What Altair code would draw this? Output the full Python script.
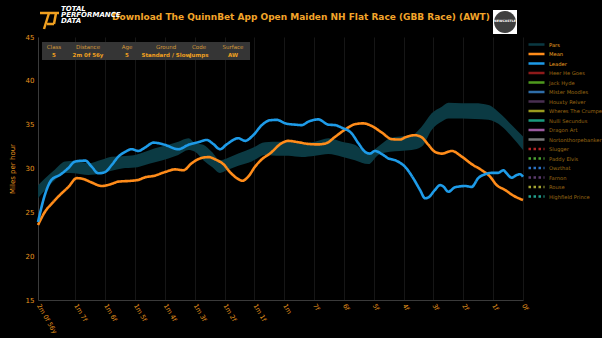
import altair as alt
import pandas as pd

# ---------------- data ----------------
leader_dist = [16.25, 16.0, 15.8, 15.5, 15.25, 15.0, 14.67, 14.45, 14.23, 14.0, 13.78, 13.56, 13.33,
               13.11, 12.89, 12.66, 12.38, 12.0, 11.55, 11.21, 10.88, 10.6, 10.38, 10.15, 9.93, 9.54,
               9.31, 9.04, 8.75, 8.48, 8.25, 7.97, 7.64, 7.41, 7.19, 6.86, 6.52, 6.3, 6.07, 5.74, 5.52,
               5.29, 5.13, 4.96, 4.73, 4.51, 4.29, 3.9, 3.68, 3.45, 3.28, 3.17, 2.95, 2.78, 2.67, 2.5,
               2.28, 1.94, 1.72, 1.5, 1.27, 1.05, 0.83, 0.66, 0.55, 0.38, 0.21, 0.1, 0.0]
leader_mph = [23.9, 27.2, 28.7, 29.3, 30.0, 30.8, 30.9, 30.2, 29.45, 29.6, 30.4, 31.35, 31.9,
              32.2, 32.0, 32.4, 32.95, 32.7, 32.2, 32.7, 33.0, 33.25, 32.8, 32.2, 32.75, 33.45,
              33.15, 33.8, 34.95, 35.5, 35.55, 35.15, 35.0, 34.95, 35.35, 35.6, 35.0, 34.95, 34.65, 34.0, 32.9,
              31.9, 31.7, 32.0, 31.65, 31.15, 30.95, 30.0, 28.9, 27.55, 26.6, 26.7, 27.55, 28.1, 27.95, 27.35,
              27.85, 28.0, 27.9, 28.9, 29.35, 29.5, 29.5, 29.8, 29.45, 28.95, 29.25, 29.35, 29.05]

mean_dist = [16.25, 16.01, 15.79, 15.51, 15.23, 14.95, 14.73, 14.45, 14.11, 13.78, 13.56, 13.11, 12.89,
             12.66, 12.38, 11.99, 11.66, 11.38, 11.1, 10.82, 10.54, 10.26, 10.04, 9.82, 9.59, 9.4, 9.2,
             8.98, 8.75, 8.48, 8.08, 7.86, 7.53, 7.19, 6.86, 6.58, 6.3, 5.96, 5.63, 5.35, 5.07, 4.73,
             4.4, 4.12, 3.95, 3.62, 3.39, 3.17, 2.95, 2.72, 2.39, 2.05, 1.72, 1.38, 1.11, 0.88, 0.6, 0.32, 0.0]
mean_mph = [23.55, 25.1, 26.0, 27.0, 27.9, 28.9, 28.8, 28.4, 28.0, 28.25, 28.5, 28.6, 28.7,
            29.0, 29.15, 29.6, 29.9, 29.8, 30.6, 31.15, 31.3, 30.95, 30.5, 29.6, 28.9, 28.6, 29.1,
            30.2, 31.05, 31.7, 32.9, 33.15, 33.0, 32.8, 32.75, 32.9, 33.6, 34.45, 35.05, 35.15, 34.85, 34.1,
            33.35, 33.3, 33.55, 33.8, 33.55, 32.7, 31.9, 31.7, 32.0, 31.35, 30.5, 29.8, 29.1, 28.1, 27.55, 26.9, 26.4]

pars_dist = [16.25, 16.01, 15.68, 15.34, 15.01, 14.57, 14.12, 13.78, 13.44, 13.0, 12.66, 12.33, 11.88,
             11.55, 11.21, 10.99, 10.71, 10.43, 10.15, 9.93, 9.54, 9.09, 8.64, 8.14, 7.86, 7.41, 6.97,
             6.52, 6.07, 5.63, 5.18, 4.85, 4.46, 4.12, 3.73, 3.39, 3.06, 2.72, 2.5, 2.05, 1.61, 1.16,
             0.71, 0.38, 0.0]
pars_high = [28.1, 28.9, 29.9, 30.8, 30.85, 30.6, 31.0, 31.35, 31.4, 31.55, 31.9, 32.3, 32.7,
             33.05, 33.45, 32.9, 32.7, 31.9, 30.95, 31.15, 31.7, 32.3, 33.0, 33.05, 33.05, 32.9, 33.05,
             33.45, 33.05, 32.7, 31.7, 32.5, 33.45, 33.65, 33.8, 34.8, 36.3, 37.05, 37.5, 37.45, 37.45, 37.25,
             36.1, 34.95, 33.65]
pars_low = [26.6, 27.55, 28.7, 29.5, 29.45, 29.25, 29.45, 29.75, 30.0, 30.1, 30.4, 30.7, 31.15,
            31.55, 32.1, 31.9, 30.95, 30.2, 29.5, 29.8, 30.3, 30.8, 31.55, 31.45, 31.45, 31.3, 31.45,
            31.65, 31.35, 30.95, 30.5, 31.55, 31.9, 32.0, 32.1, 32.5, 34.4, 35.35, 35.7, 35.7, 35.65, 35.55,
            34.8, 33.65, 32.1]

summary_names = ["Pars", "Mean", "Leader"]
solid_runners = ["Heer He Goes", "Jack Hyde", "Mister Moodles", "Houxty Reiver", "Wheres The Crumpe",
                 "Nulli Secundus", "Dragon Art", "Nortonthorpebanker"]
dotted_runners = ["Slugger", "Paddy Elvis", "Owzthat", "Farnon", "Rouse", "Highfield Prince"]
legend_names = summary_names + solid_runners + dotted_runners
legend_colors = ["#0b3a43", "#ff8c1a", "#1e9be8",
                 "#8e1a1a", "#4f9a1e", "#2f6ea8", "#4a3052", "#9a9a1e", "#1a9a7e", "#9a5a9e", "#7a7a7a",
                 "#b02424", "#4aa032", "#2a72c4", "#5c3c6e", "#a2a232", "#22a08e"]

tick_values = [16.25, 15, 14, 13, 12, 11, 10, 9, 8, 7, 6, 5, 4, 3, 2, 1, 0]
tick_labels = ["2m 0f 56y", "1m 7f", "1m 6f", "1m 5f", "1m 4f", "1m 3f", "1m 2f", "1m 1f", "1m",
               "7f", "6f", "5f", "4f", "3f", "2f", "1f", "0f"]

info_headers = ["Class", "Distance", "Age", "Ground", "Code", "Surface"]
info_values = ["5", "2m 0f 56y", "5", "Standard / Slow", "Jumps", "AW"]
title_text = "Download The QuinnBet App Open Maiden NH Flat Race (GBB Race) (AWT)"
logo_words = ["TOTAL", "PERFORMANCE", "DATA"]

# ---------------- styling ----------------
ORANGE = "#e8961e"
FONT = "DejaVu Sans"
W, H = 485, 263

lines_df = pd.concat([
    pd.DataFrame({"dist": mean_dist, "mph": mean_mph, "series": "Mean"}),
    pd.DataFrame({"dist": leader_dist, "mph": leader_mph, "series": "Leader"}),
])
pars_df = pd.DataFrame({"dist": pars_dist, "low": pars_low, "high": pars_high})

label_expr = " : ".join(
    f"datum.value == {v} ? '{t}'" for v, t in zip(tick_values, tick_labels)) + " : ''"

x_enc = alt.X("dist:Q",
              scale=alt.Scale(domain=[0, 16.25], reverse=True, nice=False, zero=False),
              axis=alt.Axis(values=tick_values, labelExpr=label_expr, title=None,
                            grid=True, gridColor="#161616", gridWidth=1,
                            domainColor="#3a3a3a", ticks=False, labelColor=ORANGE,
                            labelFontSize=6.5, labelFont=FONT, labelAngle=60, labelAlign="left",
                            labelBaseline="middle", labelPadding=4, labelOverlap=False,
                            labelFlush=False))
y_scale = alt.Scale(domain=[15, 45], nice=False, zero=False)
y_axis = alt.Axis(values=[15, 20, 25, 30, 35, 40, 45], title="Miles per hour", grid=False,
                  domainColor="#3a3a3a", ticks=False, labelColor=ORANGE, labelFontSize=7,
                  labelFont=FONT, labelPadding=4, titleColor=ORANGE, titleFontSize=7,
                  titleFont=FONT, titleFontWeight="normal", titlePadding=10)

band = alt.Chart(pars_df).mark_area(color="#0b3a43", opacity=1, interpolate="monotone").encode(
    x=x_enc, y=alt.Y("low:Q", scale=y_scale, axis=y_axis), y2="high:Q")

dash_range = [[1, 0]] * 11 + [[2.5, 2.5]] * 6
label_color_expr = ("indexof(['Pars','Mean','Leader'], datum.label) >= 0 ? '#f0a020' : '#9c6a14'")

lines = alt.Chart(lines_df).mark_line(interpolate="monotone", strokeWidth=2.6).encode(
    x=x_enc,
    y=alt.Y("mph:Q", scale=y_scale, axis=y_axis),
    color=alt.Color("series:N", scale=alt.Scale(domain=legend_names, range=legend_colors),
                    legend=alt.Legend(title=None, orient="none", legendX=489, legendY=4,
                                      symbolType="stroke", symbolSize=256, clipHeight=7,
                                      rowPadding=2.5, labelFontSize=5.2, labelFont=FONT,
                                      labelColor={"expr": label_color_expr}, labelOffset=3,
                                      padding=0, symbolStrokeWidth=2.5, labelLimit=60)),
    strokeDash=alt.StrokeDash("series:N", scale=alt.Scale(domain=legend_names, range=dash_range),
                              legend=alt.Legend(title=None)),
)

one = pd.DataFrame({"k": [0]})

def txt(text, x, y, size, color, weight="normal", align="center", style="normal", font=FONT):
    return alt.Chart(one).mark_text(text=text, fontSize=size, color=color, fontWeight=weight,
                                    align=align, baseline="middle", font=font, fontStyle=style).encode(
        x=alt.value(x), y=alt.value(y))

def rule(x1, y1, x2, y2, color, w):
    return alt.Chart(one).mark_rule(color=color, strokeWidth=w).encode(
        x=alt.value(x1), x2=alt.value(x2), y=alt.value(y1), y2=alt.value(y2))

decor = []
# title
decor.append(txt(title_text, 263, -20, 9, "#f2a52a", weight="bold"))
# TPD logo
for i, w in enumerate(logo_words):
    decor.append(txt(w, 23, -28 + i * 6, 7, "white", weight="bold", align="left", style="italic"))
decor.append(rule(2, -24, 21, -24, "#f0a020", 2.5))
decor.append(rule(11, -24, 6, -8, "#f0a020", 2.5))
decor.append(rule(18, -24, 16, -13, "#f0a020", 2.5))
decor.append(rule(16, -13, 9, -13, "#f0a020", 2.5))
# Newcastle logo
decor.append(alt.Chart(one).mark_rect(color="white").encode(
    x=alt.value(455), x2=alt.value(479), y=alt.value(-27), y2=alt.value(-3)))
decor.append(alt.Chart(one).mark_point(shape="circle", filled=True, color="#3f3f3f", size=480,
                                       opacity=1).encode(x=alt.value(467), y=alt.value(-15)))
decor.append(txt("NEWCASTLE", 467, -16, 3.2, "white", weight="bold"))
# info box
decor.append(alt.Chart(one).mark_rect(color="#353535").encode(
    x=alt.value(4), x2=alt.value(212), y=alt.value(5), y2=alt.value(23)))
info_x = [16, 50, 89, 128, 161, 195]
for hx, hd, vl in zip(info_x, info_headers, info_values):
    decor.append(txt(hd, hx, 10, 5.5, "#d59a3a"))
    decor.append(txt(vl, hx, 17.5, 5.5, "#f0a020", weight="bold"))

chart = alt.layer(band, lines, *decor).resolve_scale(
    color="independent", strokeDash="independent"
).properties(
    width=W, height=H, background="black",
    padding={"left": 38, "top": 37, "right": 79, "bottom": 38}, autosize="none"
).configure_view(stroke=None).configure_axis(labelFont=FONT)

chart.save("out.html", embed_options={"renderer": "svg", "actions": False})
